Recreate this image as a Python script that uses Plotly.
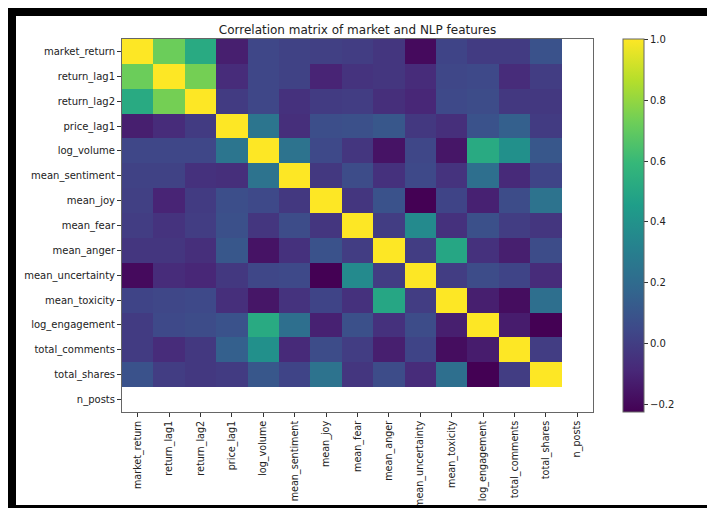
import plotly.graph_objects as go

features = ["market_return", "return_lag1", "return_lag2", "price_lag1", "log_volume",
            "mean_sentiment", "mean_joy", "mean_fear", "mean_anger", "mean_uncertainty",
            "mean_toxicity", "log_engagement", "total_comments", "total_shares", "n_posts"]

# upper-triangle correlations (row i, columns i+1..13)
r_market_return = [0.72, 0.52, -0.12, 0.04, 0.02, 0.01, 0.00, -0.03, -0.19, 0.03, -0.01, -0.01, 0.09]
r_return_lag1 = [0.74, -0.07, 0.04, 0.02, -0.10, -0.04, -0.03, -0.07, 0.04, 0.05, -0.07, 0.00]
r_return_lag2 = [-0.01, 0.04, -0.05, -0.01, 0.00, -0.06, -0.09, 0.05, 0.06, -0.02, -0.02]
r_price_lag1 = [0.25, -0.06, 0.07, 0.08, 0.11, -0.02, -0.06, 0.09, 0.15, -0.01]
r_log_volume = [0.24, 0.05, -0.03, -0.16, 0.04, -0.15, 0.52, 0.39, 0.11]
r_mean_sentiment = [-0.02, 0.06, -0.05, 0.05, -0.04, 0.22, -0.08, 0.03]
r_mean_joy = [-0.03, 0.09, -0.223, 0.03, -0.11, 0.06, 0.24]
r_mean_fear = [0.00, 0.36, -0.05, 0.08, 0.00, -0.03]
r_mean_anger = [0.00, 0.50, -0.05, -0.12, 0.06]
r_mean_uncertainty = [0.00, 0.06, 0.03, -0.07]
r_mean_toxicity = [-0.12, -0.18, 0.22]
r_log_engagement = [-0.13, -0.223]
r_total_comments = [0.00]

upper = [r_market_return, r_return_lag1, r_return_lag2, r_price_lag1, r_log_volume,
         r_mean_sentiment, r_mean_joy, r_mean_fear, r_mean_anger, r_mean_uncertainty,
         r_mean_toxicity, r_log_engagement, r_total_comments, []]

n = len(features)
z = [[None] * n for _ in range(n)]
for i in range(n - 1):
    z[i][i] = 1.0
    for k, v in enumerate(upper[i]):
        j = i + 1 + k
        z[i][j] = v
        z[j][i] = v

cb_ticks = [-0.2, 0.0, 0.2, 0.4, 0.6, 0.8, 1.0]

# the page body adds an 8px offset, so the figure is 8px smaller than the window
OFF = 8
W, H = 715 - OFF, 508 - OFF
L, R, T, B = 122 - OFF, 593 - OFF, 39 - OFF, 412 - OFF
pw, ph = R - L, B - T

def px_x(x):  # page pixel -> paper
    return (x - OFF - L) / pw

def px_y(y):
    return (B - (y - OFF)) / ph

fig = go.Figure(go.Heatmap(
    z=z, x=features, y=features,
    colorscale="Viridis", zmin=-0.223, zmax=1.0,
    hoverongaps=False,
    colorbar=dict(
        x=px_x(623), xanchor="left", xref="paper",
        y=0.5, yanchor="middle", len=1.0, lenmode="fraction",
        xpad=0, ypad=0,
        thickness=21, outlinewidth=1, outlinecolor="#666",
        tickvals=cb_ticks, tickformat=".1f",
        ticks="outside", ticklen=4, tickcolor="#333",
        tickfont=dict(family="DejaVu Sans", size=10, color="#222"),
    ),
))

axis_common = dict(
    showline=True, mirror=True, linecolor="#666", linewidth=1,
    ticks="outside", ticklen=4, tickcolor="#333",
    showgrid=False, zeroline=False, automargin=False,
)

fig.update_layout(
    width=W, height=H,
    margin=dict(l=L, r=W - R, t=T, b=H - B, pad=0, autoexpand=False),
    paper_bgcolor="white", plot_bgcolor="white",
    title=dict(text="Correlation matrix of market and NLP features",
               x=0.5, xref="paper", xanchor="center",
               y=1 - (30 - OFF) / H, yanchor="middle",
               font=dict(family="DejaVu Sans", size=12, color="#222")),
    xaxis=dict(tickangle=-90, tickfont=dict(family="DejaVu Sans", size=9.6, color="#222"),
               **axis_common),
    yaxis=dict(autorange="reversed", tickfont=dict(family="DejaVu Sans", size=10, color="#222"),
               **axis_common),
    shapes=[
        dict(type="rect", xref="paper", yref="paper", x0=px_x(8), x1=px_x(760),
             y0=px_y(16), y1=px_y(0), fillcolor="black", line=dict(width=0), layer="above"),
        dict(type="rect", xref="paper", yref="paper", x0=px_x(0), x1=px_x(16),
             y0=px_y(560), y1=px_y(8), fillcolor="black", line=dict(width=0), layer="above"),
        dict(type="rect", xref="paper", yref="paper", x0=px_x(8), x1=px_x(760),
             y0=px_y(560), y1=px_y(505), fillcolor="black", line=dict(width=0), layer="above"),
    ],
)

fig.write_html("out.html")
